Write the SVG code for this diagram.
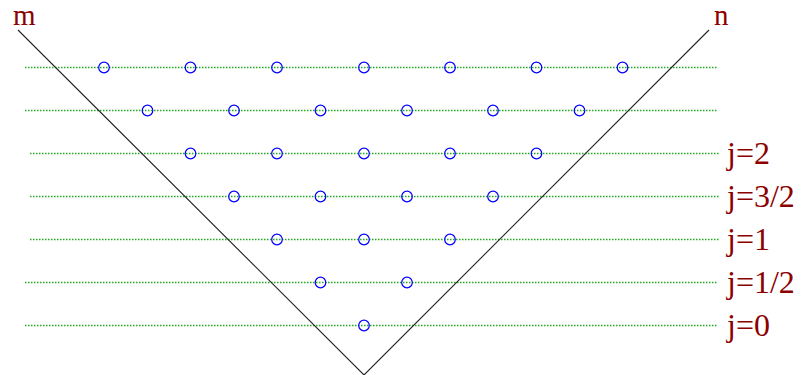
<svg xmlns="http://www.w3.org/2000/svg" width="802" height="375" viewBox="0 0 802 375">
<style>
.grid{stroke:#22aa22;stroke-width:1.4;stroke-dasharray:1.5 1.5;fill:none}
.c{fill:none;stroke:#0000ff;stroke-width:1.2}
.v{stroke:#222;stroke-width:1.1;fill:none}
.t{font-family:"Liberation Serif",serif;font-size:29px;fill:#8b0000}
.j{font-size:32px}
</style>
<rect width="802" height="375" fill="#fff"/>
<g id="grid">
<line class="grid" x1="25" y1="67.5" x2="717" y2="67.5"/>
<line class="grid" x1="25" y1="110.5" x2="717" y2="110.5"/>
<line class="grid" x1="30" y1="153.5" x2="720" y2="153.5"/>
<line class="grid" x1="30" y1="196.5" x2="720" y2="196.5"/>
<line class="grid" x1="30" y1="239.5" x2="720" y2="239.5"/>
<line class="grid" x1="25" y1="282.5" x2="717" y2="282.5"/>
<line class="grid" x1="25" y1="325.5" x2="717" y2="325.5"/>
</g>
<g id="connectors">
<polyline class="v" points="18,30 364,375 709,30"/>
</g>
<g id="points">
<circle class="c" cx="104" cy="67.5" r="5.3"/><circle class="c" cx="190.5" cy="67.5" r="5.3"/><circle class="c" cx="277" cy="67.5" r="5.3"/><circle class="c" cx="364" cy="67.5" r="5.3"/><circle class="c" cx="450" cy="67.5" r="5.3"/><circle class="c" cx="536.5" cy="67.5" r="5.3"/><circle class="c" cx="622.5" cy="67.5" r="5.3"/>
<circle class="c" cx="147.5" cy="110.5" r="5.3"/><circle class="c" cx="234" cy="110.5" r="5.3"/><circle class="c" cx="320.5" cy="110.5" r="5.3"/><circle class="c" cx="407" cy="110.5" r="5.3"/><circle class="c" cx="493" cy="110.5" r="5.3"/><circle class="c" cx="579.5" cy="110.5" r="5.3"/>
<circle class="c" cx="190.5" cy="153.5" r="5.3"/><circle class="c" cx="277" cy="153.5" r="5.3"/><circle class="c" cx="364" cy="153.5" r="5.3"/><circle class="c" cx="450" cy="153.5" r="5.3"/><circle class="c" cx="536.5" cy="153.5" r="5.3"/>
<circle class="c" cx="234" cy="196.5" r="5.3"/><circle class="c" cx="320.5" cy="196.5" r="5.3"/><circle class="c" cx="407" cy="196.5" r="5.3"/><circle class="c" cx="493" cy="196.5" r="5.3"/>
<circle class="c" cx="277" cy="239.5" r="5.3"/><circle class="c" cx="364" cy="239.5" r="5.3"/><circle class="c" cx="450" cy="239.5" r="5.3"/>
<circle class="c" cx="320.5" cy="282.5" r="5.3"/><circle class="c" cx="407" cy="282.5" r="5.3"/>
<circle class="c" cx="364" cy="325.5" r="5.3"/>
</g>
<g id="labels">
<text class="t" x="13" y="25">m</text>
<text class="t" x="714" y="25">n</text>
<text class="t j" x="727" y="164">j=2</text>
<text class="t j" x="727" y="207">j=3/2</text>
<text class="t j" x="727" y="250">j=1</text>
<text class="t j" x="727" y="293">j=1/2</text>
<text class="t j" x="727" y="336">j=0</text>
</g>
</svg>
